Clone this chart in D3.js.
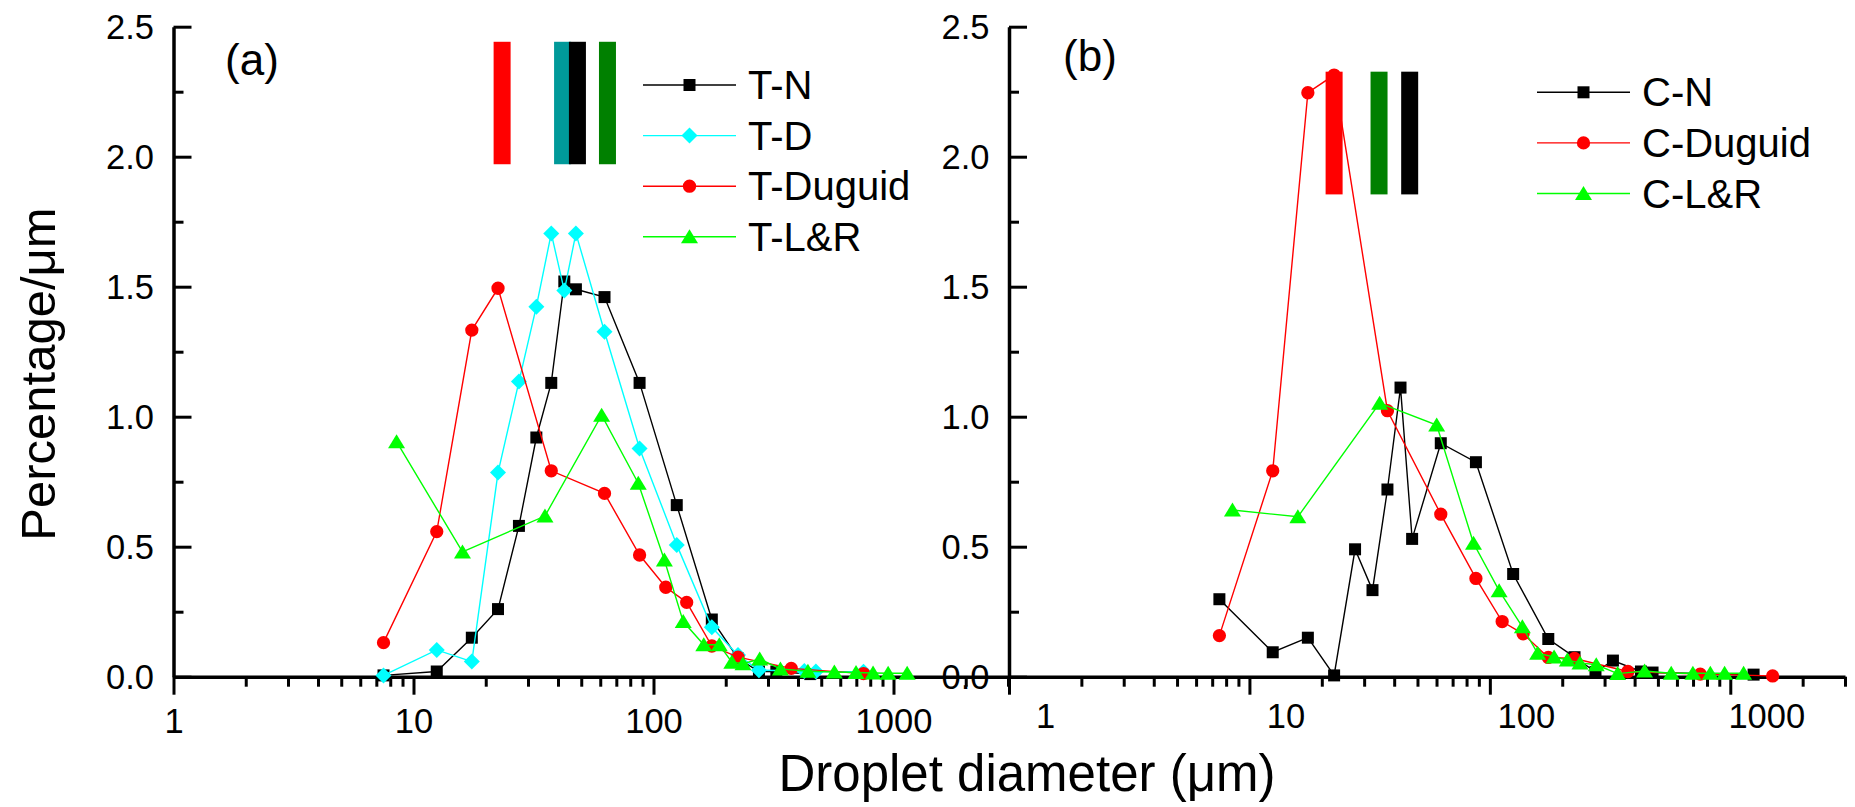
<!DOCTYPE html>
<html>
<head>
<meta charset="utf-8">
<script src="https://cdn.jsdelivr.net/npm/d3@7"></script>
<style>
  html, body { margin: 0; padding: 0; background: #fff; }
  svg { display: block; font-family: "Liberation Sans", Arial, sans-serif; }
</style>
</head>
<body>
<svg id="chart" width="1855" height="807"></svg>
<script>
// ---- data ----
// panel (a): T- series
var tnD = [7.5, 12.5, 17.5, 22.5, 27.5, 32.5, 37.5, 42.5, 47.5, 62.5, 87.5, 125, 175, 225, 275, 325, 450];
var tnV = [0.005, 0.02, 0.15, 0.26, 0.58, 0.92, 1.13, 1.52, 1.49, 1.46, 1.13, 0.66, 0.22, 0.07, 0.02, 0.02, 0.01];
var tdD = [7.5, 12.5, 17.5, 22.5, 27.5, 32.5, 37.5, 42.5, 47.5, 62.5, 87.5, 125, 175, 225, 275, 425, 475, 750];
var tdV = [0.005, 0.103, 0.058, 0.785, 1.135, 1.423, 1.705, 1.485, 1.705, 1.327, 0.878, 0.507, 0.19, 0.083, 0.025, 0.022, 0.02, 0.019];
var tduD = [7.5, 12.5, 17.5, 22.5, 37.5, 62.5, 87.5, 112.5, 137.5, 175, 225, 375, 750];
var tduV = [0.131, 0.558, 1.333, 1.494, 0.792, 0.705, 0.468, 0.344, 0.286, 0.118, 0.075, 0.032, 0.012];
var tlrD = [8.5, 16, 35.3, 60.8, 86.4, 111, 133, 162, 188, 212, 236, 277, 338, 440, 567, 698, 822, 950, 1140];
var tlrV = [0.904, 0.48, 0.618, 1.006, 0.744, 0.449, 0.212, 0.123, 0.123, 0.056, 0.05, 0.068, 0.03, 0.021, 0.018, 0.016, 0.014, 0.013, 0.013];

// panel (b): C- series
var cnD = [7.5, 12.5, 17.5, 22.5, 27.5, 32.5, 37.5, 42.5, 47.5, 62.5, 87.5, 125, 175, 225, 275, 325, 425, 475, 1250];
var cnV = [0.298, 0.094, 0.15, 0.005, 0.49, 0.333, 0.72, 1.112, 0.53, 0.898, 0.825, 0.395, 0.145, 0.075, 0.018, 0.062, 0.02, 0.016, 0.008];
var cduD = [7.5, 12.5, 17.5, 22.5, 37.5, 62.5, 87.5, 112.5, 137.5, 175, 225, 375, 750, 1500];
var cduV = [0.158, 0.792, 2.246, 2.314, 1.023, 0.625, 0.378, 0.212, 0.165, 0.074, 0.07, 0.02, 0.01, 0.003];
var clrD = [8.5, 15.9, 34.8, 60.1, 85.5, 109.3, 136.5, 158, 185, 210, 237, 277, 340, 440, 568, 699, 826, 947, 1136];
var clrV = [0.641, 0.615, 1.052, 0.968, 0.513, 0.331, 0.192, 0.09, 0.076, 0.064, 0.053, 0.046, 0.012, 0.022, 0.013, 0.013, 0.013, 0.013, 0.013];

// mean-diameter bars shown at the top of each panel
var barKeysA = ["Duguid", "D", "N", "LR"];
var barDiamA = [23.4, 41.8, 48.2, 64.3];
var barSpanA = [1.971, 2.442];
var barKeysB = ["Duguid", "LR", "N"];
var barDiamB = [22.5, 34.6, 46.4];
var barSpanB = [1.855, 2.327];

// axes
var xDomain = [1, 3000];
var yDomain = [0, 2.5];
var xMajor = [1, 10, 100, 1000];
var xMinor = [2, 3, 4, 5, 6, 7, 8, 9, 20, 30, 40, 50, 60, 70, 80, 90, 200, 300, 400, 500, 600, 700, 800, 900, 2000, 3000];
var yMajor = [0, 0.5, 1.0, 1.5, 2.0, 2.5];
var yMinor = [0.25, 0.75, 1.25, 1.75, 2.25];

// ---- styles ----
var lineCol = { N: "#000000", D: "#00ffff", Duguid: "#ff0000", LR: "#00ff00" };
var barCol = { N: "#000000", D: "#009999", Duguid: "#ff0000", LR: "#008000" };

function sym(kind) {
  if (kind === "square") return "M-6,-6h12v12h-12Z";
  if (kind === "diamond") return "M0,-8L8,0L0,8L-8,0Z";
  if (kind === "circle") return d3.symbol(d3.symbolCircle, 139)();
  return "M0,-7.5L8.5,6.5L-8.5,6.5Z";
}

var panels = [
  {
    x0: 173.5, x1: 1008, tag: "(a)", tagX: 252, tagY: 75, tickBase: 733, tickDx: 0,
    legX: 643, legY: 85,
    series: [
      { name: "T-N", key: "N", marker: "square", d: tnD, v: tnV },
      { name: "T-D", key: "D", marker: "diamond", d: tdD, v: tdV },
      { name: "T-Duguid", key: "Duguid", marker: "circle", d: tduD, v: tduV },
      { name: "T-L&R", key: "LR", marker: "triangle", d: tlrD, v: tlrV }
    ],
    barKeys: barKeysA, barDiam: barDiamA, barSpan: barSpanA
  },
  {
    x0: 1009, x1: 1845, tag: "(b)", tagX: 1090, tagY: 71, tickBase: 728.5, tickDx: 36,
    legX: 1537, legY: 92.3,
    series: [
      { name: "C-N", key: "N", marker: "square", d: cnD, v: cnV },
      { name: "C-Duguid", key: "Duguid", marker: "circle", d: cduD, v: cduV },
      { name: "C-L&R", key: "LR", marker: "triangle", d: clrD, v: clrV }
    ],
    barKeys: barKeysB, barDiam: barDiamB, barSpan: barSpanB
  }
];

var svg = d3.select("#chart");
var y = d3.scaleLinear().domain(yDomain).range([676.7, 26.7]);

panels.forEach(function (p) {
  var x = d3.scaleLog().domain(xDomain).range([p.x0, p.x1]);
  var g = svg.append("g");

  // ---- axes ----
  var ax = g.append("g").attr("transform", "translate(0," + y(0) + ")")
    .call(d3.axisBottom(x).tickValues(xMajor).tickFormat(d3.format("d")).tickSize(18).tickSizeOuter(0));
  g.append("g").attr("transform", "translate(0," + y(0) + ")")
    .call(d3.axisBottom(x).tickValues(xMinor).tickFormat("").tickSize(10).tickSizeOuter(0))
    .select(".domain").remove();
  ax.selectAll("text").attr("y", p.tickBase - y(0)).attr("dy", 0).attr("dx", p.tickDx);

  var ay = g.append("g").attr("transform", "translate(" + p.x0 + ",0)")
    .call(d3.axisLeft(y).tickValues(yMajor).tickFormat(d3.format(".1f")).tickSize(-18).tickPadding(19.5).tickSizeOuter(0));
  g.append("g").attr("transform", "translate(" + p.x0 + ",0)")
    .call(d3.axisLeft(y).tickValues(yMinor).tickFormat("").tickSize(-10).tickSizeOuter(0))
    .select(".domain").remove();
  ay.selectAll("text").attr("dy", "0.35em");

  g.selectAll(".domain").attr("stroke", "#000").attr("stroke-width", 3.5);
  g.selectAll(".tick line").attr("stroke", "#000").attr("stroke-width", 3);
  g.selectAll(".tick text").attr("font-size", 34.5).attr("fill", "#000")
    .attr("font-family", "'Liberation Sans', Arial, sans-serif");
  g.selectAll("g").attr("font-family", null).attr("font-size", null);

  // ---- series: line then markers ----
  p.series.forEach(function (s) {
    var pts = s.d.map(function (d, i) { return [d, s.v[i]]; });
    g.append("path")
      .attr("d", d3.line().x(function (q) { return x(q[0]); }).y(function (q) { return y(q[1]); })(pts))
      .attr("fill", "none").attr("stroke", lineCol[s.key]).attr("stroke-width", 1.4);
    g.selectAll(null).data(pts).enter().append("path")
      .attr("transform", function (q) { return "translate(" + x(q[0]) + "," + y(q[1]) + ")"; })
      .attr("d", sym(s.marker)).attr("fill", lineCol[s.key]);
  });

  // ---- mean-diameter bars ----
  g.selectAll(null).data(p.barDiam).enter().append("rect")
    .attr("x", function (d) { return x(d) - 8.5; })
    .attr("width", 17)
    .attr("y", y(p.barSpan[1]))
    .attr("height", y(p.barSpan[0]) - y(p.barSpan[1]))
    .attr("fill", function (d, i) { return barCol[p.barKeys[i]]; });

  // ---- panel tag ----
  g.append("text").attr("x", p.tagX).attr("y", p.tagY).attr("text-anchor", "middle")
    .attr("font-size", 44).text(p.tag);

  // ---- legend ----
  var lg = g.selectAll(".lg").data(p.series).enter().append("g")
    .attr("transform", function (s, i) { return "translate(" + p.legX + "," + (p.legY + i * 50.6) + ")"; });
  lg.append("line").attr("x1", 0).attr("x2", 93)
    .attr("stroke", function (s) { return lineCol[s.key]; }).attr("stroke-width", 1.4);
  lg.append("path").attr("transform", "translate(46.5,0)")
    .attr("d", function (s) { return sym(s.marker); })
    .attr("fill", function (s) { return lineCol[s.key]; });
  lg.append("text").attr("x", 105).attr("dy", "0.35em").attr("font-size", 40)
    .text(function (s) { return s.name; });
});

// ---- axis titles ----
svg.append("text").attr("x", 1027).attr("y", 791).attr("text-anchor", "middle")
  .attr("font-size", 51).text("Droplet diameter (\u03bcm)");
svg.append("text").attr("transform", "translate(55,374) rotate(-90)").attr("text-anchor", "middle")
  .attr("font-size", 49).text("Percentage/\u03bcm");
</script>
</body>
</html>
